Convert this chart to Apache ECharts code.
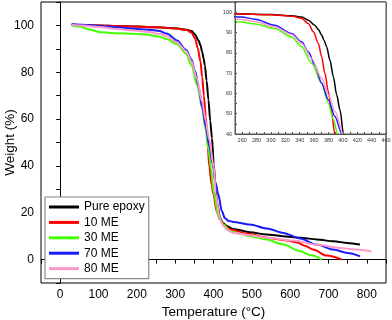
<!DOCTYPE html>
<html><head><meta charset="utf-8">
<script src="https://cdn.jsdelivr.net/npm/echarts@6/dist/echarts.min.js"></script>
<style>html,body{margin:0;padding:0;background:#fff}#c{width:392px;height:320px}</style>
</head><body><div id="c"></div>
<script>
const seriesNames = ['Pure epoxy', '10 ME', '30 ME', '70 ME', '80 ME'];
const pureEpoxy = [[30,100.3],[60,100.2],[100,100],[150,99.8],[200,99.5],[250,99.2],[300,98.8],[330,98.2],[343,97.6],[352,96],[361,93.6],[366,91.5],[370.5,88.7],[374,86],[377.4,83],[382,76.4],[386.8,68.2],[391.4,59.3],[396,51.9],[400.7,40.5],[405,32],[410,24],[417,17.8],[425,15.6],[434.5,14.3],[451.7,13.1],[495,11.7],[539,10.7],[580,10],[626,9.3],[670,8.6],[713,7.8],[750,7.1],[782,6.4]];
const me10 = [[30,100.3],[60,100.2],[100,100],[150,99.8],[200,99.5],[250,99.2],[300,98.7],[330,98],[342.6,96.9],[352,94.4],[359,90.3],[366,84.6],[370.5,78],[375,69.9],[379.8,60.9],[384.4,50.3],[389,39.7],[395,32],[400,27.9],[408,20.7],[417,17.1],[430,14.3],[443,12.9],[490,11],[539,9.3],[580,8.4],[617,7.4],[640,5.8],[660,4.3],[695,1.7],[735,0]];
const me30 = [[30,100],[50,99.5],[75,98.3],[104,97.1],[150,96.7],[190,96.4],[230,96],[259,95.2],[278,94.2],[305,92],[328.7,87.8],[342.6,83],[356.6,74.8],[370.5,65],[379.8,55.2],[386.8,47],[393.7,38.8],[400,29],[412.5,18.6],[425.6,15],[443,12.1],[470,11],[495,10],[539,8.6],[582,6.4],[626,3.6],[655,1.8],[682,0]];
const me70 = [[30,100.5],[60,100.3],[100,99.8],[150,99.2],[190,98.6],[230,98.2],[259,97.6],[278,96.5],[305,93.6],[328.7,89.5],[342.6,85.4],[352,80.5],[361,74],[370.5,65],[379.8,56.8],[389,48.6],[398.3,40.5],[405,33],[412.5,27.9],[421.7,20.7],[430,17.6],[440,16.5],[451.7,16.1],[495,15],[539,13.3],[582,11.4],[626,9],[669,6.4],[713,4.3],[750,2.8],[782,1.4]];
const me80 = [[30,100.2],[60,100],[100,99.3],[150,98.5],[190,97.8],[230,97.2],[259,96.4],[278,95.4],[305,92.7],[328.7,89],[342.6,84.6],[356.6,77.2],[370.5,67.4],[379.8,59.3],[389,51.1],[400.7,39.7],[406,28],[417,17.1],[425,14.5],[434.5,12.9],[451.7,11.4],[495,10.4],[539,9.3],[608,8.1],[669,6.4],[730,5],[770,4.3],[812,3.6]];
const colors = ['#000000', '#ff0000', '#44ff00', '#1a1aff', '#ff99cc'];
const allData = [pureEpoxy, me10, me30, me70, me80];

const series = [];
allData.forEach((d, i) => {
  series.push({name: seriesNames[i], type: 'line', data: d, xAxisIndex: 0, yAxisIndex: 0,
    showSymbol: false, symbol: 'none', smooth: 0.3, smoothMonotone: 'x',
    lineStyle: {color: colors[i], width: 2}, itemStyle: {color: colors[i]}, z: 3});
});
allData.forEach((d, i) => {
  series.push({name: seriesNames[i], type: 'line', data: d, xAxisIndex: 1, yAxisIndex: 1,
    showSymbol: false, symbol: 'none', smooth: 0.3, smoothMonotone: 'x', clip: true,
    lineStyle: {color: colors[i], width: 1.5}, itemStyle: {color: colors[i]}, z: 6});
});

const chart = echarts.init(document.getElementById('c'), null, {renderer: 'canvas'});
chart.setOption({
  animation: false,
  backgroundColor: '#fff',
  textStyle: {fontFamily: 'Liberation Sans, Arial, sans-serif'},
  grid: [
    {left: 41, right: 6, top: 2, bottom: 37, show: true, borderColor: '#000', borderWidth: 1, backgroundColor: 'transparent', containLabel: false, outerBoundsMode: 'none'},
    {left: 235, right: 6, top: 2, bottom: 186, show: true, borderColor: '#555', borderWidth: 1, backgroundColor: '#fff', z: 5, containLabel: false, outerBoundsMode: 'none'}
  ],
  legend: {
    orient: 'vertical', left: 45, top: 197, data: seriesNames,
    icon: 'rect', itemWidth: 30, itemHeight: 3, itemGap: 1.4,
    padding: [3, 4, 3, 4], borderColor: '#888', borderWidth: 1.2, backgroundColor: '#fff',
    textStyle: {fontSize: 12, color: '#000', lineHeight: 14, fontFamily: 'Liberation Sans, Arial, sans-serif'}
  },
  xAxis: [
    {type: 'value', gridIndex: 0, min: -50, max: 850, interval: 50,
     name: 'Temperature (°C)', nameLocation: 'middle', nameGap: 22, nameMoveOverlap: false,
     nameTextStyle: {fontSize: 13.5, color: '#000'},
     axisLine: {lineStyle: {color: '#000', width: 1}}, axisTick: {inside: false, length: 4, lineStyle: {color: '#000'}},
     axisLabel: {fontSize: 12, color: '#000', margin: 6, formatter: v => (v % 100 === 0 ? String(v) : '')},
     splitLine: {show: false}},
    {type: 'value', gridIndex: 1, min: 250, max: 460, interval: 10,
     axisLine: {lineStyle: {color: '#555', width: 1}}, axisTick: {inside: true, length: 2, lineStyle: {color: '#555'}},
     axisLabel: {fontSize: 5.5, color: '#333', margin: 3, formatter: v => (v % 20 === 0 ? String(v) : '')},
     splitLine: {show: false}, z: 7}
  ],
  yAxis: [
    {type: 'value', gridIndex: 0, min: -10, max: 110, interval: 10,
     name: 'Weight (%)', nameLocation: 'middle', nameGap: 24, nameRotate: 90, nameMoveOverlap: false,
     nameTextStyle: {fontSize: 13.5, color: '#000'},
     axisLine: {lineStyle: {color: '#000', width: 1}}, axisTick: {inside: false, length: 4, lineStyle: {color: '#000'}},
     axisLabel: {fontSize: 12, color: '#000', margin: 7, formatter: v => (v % 20 === 0 ? String(v) : '')},
     splitLine: {show: false}},
    {type: 'value', gridIndex: 1, min: 40, max: 105, interval: 5,
     axisLine: {lineStyle: {color: '#555', width: 1}}, axisTick: {inside: true, length: 2, lineStyle: {color: '#555'}},
     axisLabel: {fontSize: 5.5, color: '#333', margin: 3, formatter: v => (v % 10 === 0 ? String(v) : '')},
     splitLine: {show: false}, z: 7}
  ],
  series: series
});
</script>
</body></html>
